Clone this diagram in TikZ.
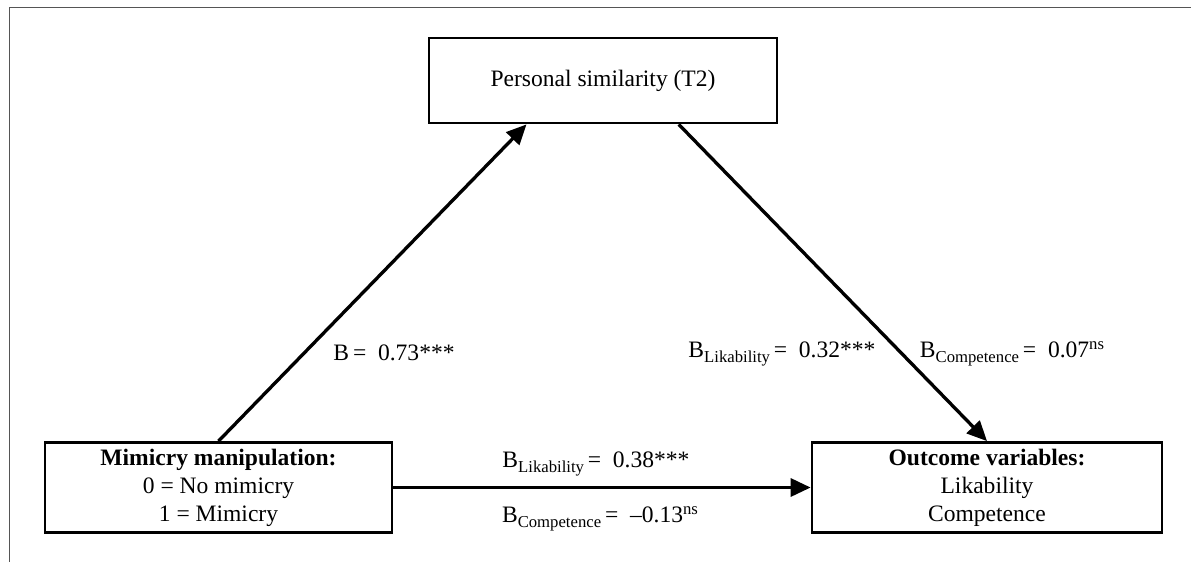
\documentclass[tikz,border=0pt]{standalone}
\usepackage{fontspec}
\setmainfont{Liberation Serif}
\usepackage{tikz}
\usetikzlibrary{arrows.meta,calc}
\definecolor{FrameGray}{HTML}{555555}

\newcommand{\lowsub}[1]{\raisebox{-0.45ex}{\fontsize{9.5}{10}\selectfont #1}}
\newcommand{\nsmark}{\raisebox{0.75ex}{\fontsize{9.5}{10}\selectfont ns}}

\begin{document}
\begin{tikzpicture}[
  x=0.02cm, y=-0.02cm,
  every node/.style={font=\fontsize{13.4}{16}\selectfont},
  varbox/.style={draw=black, line width=1.6pt, align=center, inner sep=0pt},
  effectarrow/.style={draw=black, line width=1.9pt, -{Triangle[length=0.4cm,width=0.36cm]}},
  coef/.style={inner sep=1pt},
]
\useasboundingbox (0,0) rectangle (1191,562);

% ============ frame ============
\draw[FrameGray, line width=0.5pt] (1191,7.5) -- (9,7.5) -- (9,562);

% ============ variables ============
\node[varbox, minimum width=6.96cm, minimum height=1.7cm] (sim) at (603,80.5)
  {Personal similarity (T2)};
\node[varbox, minimum width=6.94cm, minimum height=1.8cm] (mim) at (218.5,487.5)
  {\textbf{Mimicry manipulation:}\\0 = No mimicry\\1 = Mimicry};
\node[varbox, minimum width=7.0cm, minimum height=1.8cm] (out) at (987,487.5)
  {\textbf{Outcome variables:}\\Likability\\Competence};

% ============ paths ============
\draw[effectarrow] (mim.north) -- ($(sim.south west)!0.282!(sim.south east)$);
\draw[effectarrow] ($(sim.south west)!0.716!(sim.south east)$) -- (out.north);
\draw[effectarrow] (mim.east) -- (out.west);

% ============ coefficients ============
\node[coef] (a) at (394,353) {B\,=\ \ 0.73***};
\node[coef] (b1) at (782,354) {B\lowsub{Likability}\,=\ \ 0.32***};
\node[coef] (b2) at (1012,354) {B\lowsub{Competence}\,=\ \ 0.07\nsmark};
\node[coef] (c1) at (596,464) {B\lowsub{Likability}\,=\ \ 0.38***};
\node[coef] (c2) at (600,519) {B\lowsub{Competence}\,=\ \ --0.13\nsmark};

\end{tikzpicture}
\end{document}
